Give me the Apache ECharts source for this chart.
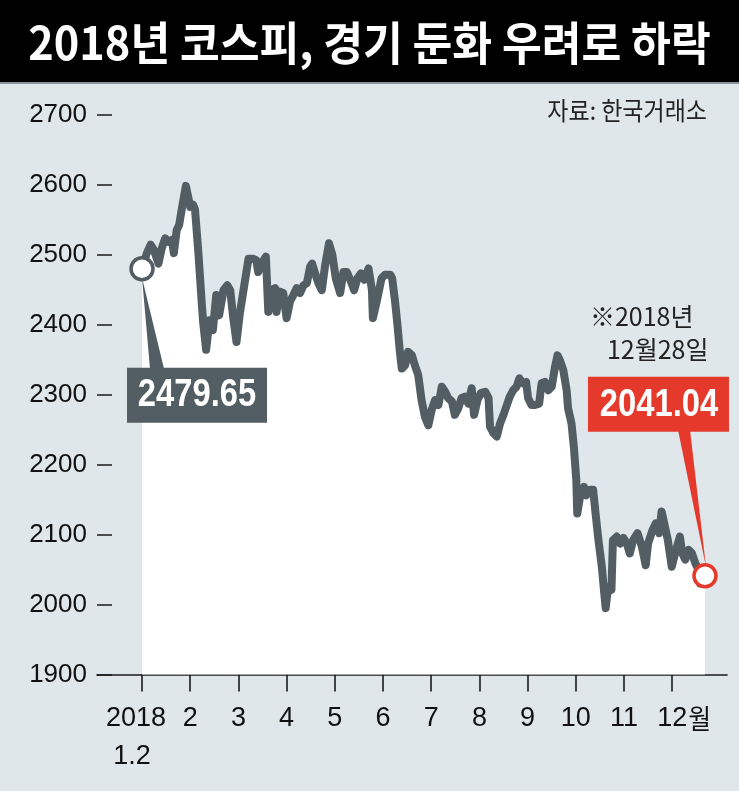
<!DOCTYPE html>
<html><head><meta charset="utf-8">
<script src="https://cdn.jsdelivr.net/npm/echarts@6/dist/echarts.min.js"></script>
<style>html,body{margin:0;padding:0;background:#dfe7ea;}#c{width:739px;height:791px;}</style>
</head><body><div id="c"></div>
<script>
const titleText = '2018년 코스피, 경기 둔화 우려로 하락';
const sourceText = '자료: 한국거래소';
const noteLine1 = '※2018년';
const noteLine2 = '12월28일';
const yMin = 1900, yMax = 2700, yStep = 100;
const monthTicks = [0,1,2,3,4,5,6,7,8,9,10,11];
const monthLabels = ['2018\n1.2','2','3','4','5','6','7','8','9','10','11','12'];
const monthUnit = '월';
const startLabel = '2479.65';
const endLabel = '2041.04';
// x position in months (0 = 2018.1.2 tick, 1 = Feb tick, ...)
const xPos = [0.00,0.10,0.18,0.25,0.34,0.41,0.48,0.55,0.62,0.66,0.72,0.77,0.82,0.91,1.00,1.06,1.10,1.17,1.24,1.27,1.33,1.40,1.47,1.54,1.60,1.69,1.77,1.83,1.89,1.96,2.03,2.14,2.21,2.30,2.37,2.41,2.48,2.57,2.62,2.69,2.76,2.79,2.86,2.93,3.00,3.07,3.14,3.21,3.28,3.35,3.42,3.49,3.53,3.60,3.66,3.73,3.80,3.88,3.95,4.02,4.11,4.18,4.25,4.32,4.40,4.47,4.54,4.61,4.70,4.77,4.79,4.87,4.97,5.04,5.15,5.19,5.25,5.30,5.35,5.39,5.46,5.52,5.60,5.66,5.73,5.80,5.87,5.94,6.01,6.08,6.15,6.22,6.29,6.35,6.43,6.49,6.56,6.63,6.70,6.77,6.84,6.89,6.96,7.03,7.12,7.19,7.22,7.29,7.36,7.43,7.50,7.57,7.63,7.70,7.77,7.83,7.90,7.97,8.01,8.08,8.15,8.24,8.29,8.36,8.43,8.50,8.57,8.62,8.67,8.74,8.81,8.84,8.91,8.96,9.01,9.03,9.10,9.17,9.22,9.29,9.36,9.41,9.47,9.54,9.59,9.62,9.67,9.74,9.77,9.85,9.92,9.99,10.06,10.12,10.19,10.28,10.37,10.45,10.50,10.59,10.66,10.73,10.78,10.85,10.91,10.99,11.06,11.16,11.21,11.27,11.34,11.41,11.48,11.55,11.58,11.62,11.68];
const kospi = [2479.65,2502,2514,2506,2487,2509,2523,2518,2521,2502,2535,2542,2563,2598,2568,2571,2564,2502,2430,2402,2364,2406,2392,2442,2413,2449,2456,2449,2411,2375,2416,2464,2494,2494,2492,2475,2487,2497,2418,2449,2452,2418,2447,2445,2409,2433,2442,2452,2445,2456,2459,2483,2487,2471,2459,2449,2485,2516,2499,2466,2445,2475,2475,2464,2449,2466,2473,2464,2480,2449,2409,2433,2466,2471,2471,2466,2433,2399,2361,2337,2342,2361,2356,2342,2328,2292,2268,2256,2278,2292,2285,2311,2304,2295,2290,2271,2280,2295,2297,2287,2309,2271,2292,2302,2304,2295,2254,2245,2240,2259,2271,2285,2297,2306,2311,2323,2316,2318,2295,2285,2285,2287,2316,2318,2306,2311,2340,2356,2349,2335,2306,2280,2259,2225,2178,2130,2159,2168,2156,2164,2164,2130,2092,2054,2016,1995,2025,2021,2092,2097,2087,2095,2087,2073,2092,2102,2083,2056,2087,2106,2116,2102,2133,2111,2092,2054,2073,2097,2073,2064,2078,2073,2059,2049,2030,2028,2041.04];

const LAT = '"Liberation Sans",Arimo,sans-serif';
const KR = '"Noto Sans CJK KR","Noto Sans",sans-serif';
const lineColor = '#525e63';
const red = '#e5392b';

const chart = echarts.init(document.getElementById('c'), null, {renderer:'canvas'});
const lineData = xPos.map((x,i)=>[x,kospi[i]]);
const first = lineData[0], last = lineData[lineData.length-1];

chart.setOption({
  backgroundColor:'#dfe7ea',
  animation:false,
  grid:{left:97,right:12,top:114.5,bottom:116.5,containLabel:false,outerBoundsMode:'none'},
  xAxis:{type:'value',min:-0.934,max:12.137,
    axisLine:{show:true,onZero:false,lineStyle:{color:'#1a1a1a',width:1.6}},
    axisTick:{show:true,customValues:monthTicks,length:17,lineStyle:{color:'#1a1a1a',width:1.6}},
    axisLabel:{show:true,customValues:monthTicks,margin:25,color:'#111',fontSize:27,fontFamily:LAT,lineHeight:38,
      showMinLabel:true,showMaxLabel:true,hideOverlap:false,
      formatter:function(v){const i=Math.round(v);const s=monthLabels[i];
        if(i===0){const parts=s.split('\n');return '{f|'+parts[0]+'}\n{g|'+parts[1]+'}';}
        return s;},
      rich:{f:{fontSize:27,fontFamily:LAT,color:'#111',lineHeight:38,padding:[0,12,0,0]},
            g:{fontSize:27,fontFamily:LAT,color:'#111',lineHeight:38,padding:[0,20,0,0]}}},
    splitLine:{show:false}},
  yAxis:{type:'value',min:yMin,max:yMax,interval:yStep,
    axisLine:{show:false,onZero:false},
    axisTick:{show:true,inside:true,length:15,lineStyle:{color:'#1a1a1a',width:1.5}},
    axisLabel:{margin:10,color:'#111',fontSize:26,fontFamily:LAT,formatter:function(v){return String(v);}},
    splitLine:{show:false}},
  series:[
    {type:'line',data:lineData,symbol:'none',z:3,
      lineStyle:{color:lineColor,width:8,join:'round',cap:'round'},
      areaStyle:{color:'#ffffff',opacity:1,origin:'start'}},
    {type:'scatter',z:10,symbol:'circle',symbolSize:22,
      data:[{value:first,itemStyle:{color:'#fff',borderColor:lineColor,borderWidth:3.5,opacity:1}},
            {value:last,itemStyle:{color:'#fff',borderColor:red,borderWidth:3.5,opacity:1}}]}
  ]
});

const p0 = chart.convertToPixel({gridIndex:0}, first);
const p1 = chart.convertToPixel({gridIndex:0}, last);
const pDec = chart.convertToPixel({gridIndex:0}, [monthTicks[11], yMin]);
chart.setOption({graphic:[
  {type:'rect',left:0,top:0,shape:{width:739,height:82},style:{fill:'#000'}},
  {type:'rect',left:0,top:82,shape:{width:739,height:2},style:{fill:'#8c9396'}},
  {type:'text',x:369.5,y:43,scaleX:0.94,style:{text:titleText,fill:'#fff',font:'bold 46px '+KR,textAlign:'center',textVerticalAlign:'middle'}},
  {type:'text',x:707,y:110,scaleX:0.92,style:{text:sourceText,fill:'#222',font:'25px '+KR,textAlign:'right',textVerticalAlign:'middle'}},
  // month unit after the last tick label
  {type:'text',x:pDec[0]+16,y:pDec[1]+44,scaleX:0.92,style:{text:monthUnit,fill:'#111',font:'27px '+KR,textAlign:'left',textVerticalAlign:'middle'}},
  // start callout
  {type:'polygon',z:20,shape:{points:[[p0[0],p0[1]+9],[p0[0]+8,p0[1]+100],[p0[0]+22,p0[1]+100]]},style:{fill:lineColor}},
  {type:'rect',z:20,shape:{x:p0[0]-15,y:p0[1]+99,width:140,height:55},style:{fill:lineColor}},
  {type:'text',z:21,x:p0[0]+55,y:p0[1]+127,scaleX:0.84,style:{text:startLabel,fill:'#fff',font:'bold 39px '+LAT,textAlign:'center',textVerticalAlign:'middle'}},
  // end callout
  {type:'polygon',z:20,shape:{points:[[p1[0]-27,p1[1]-146],[p1[0]-15,p1[1]-146],[p1[0]+1,p1[1]-9]]},style:{fill:red}},
  {type:'rect',z:20,shape:{x:p1[0]-117,y:p1[1]-199,width:141,height:55},style:{fill:red}},
  {type:'text',z:21,x:p1[0]-46,y:p1[1]-171,scaleX:0.84,style:{text:endLabel,fill:'#fff',font:'bold 39px '+LAT,textAlign:'center',textVerticalAlign:'middle'}},
  {type:'text',z:21,x:p1[0]-115,y:p1[1]-259,style:{text:noteLine1,fill:'#222',font:'25px '+KR,textAlign:'left',textVerticalAlign:'middle'}},
  {type:'text',z:21,x:p1[0]-98,y:p1[1]-226,style:{text:noteLine2,fill:'#222',font:'25px '+KR,textAlign:'left',textVerticalAlign:'middle'}}
]});
</script></body></html>
